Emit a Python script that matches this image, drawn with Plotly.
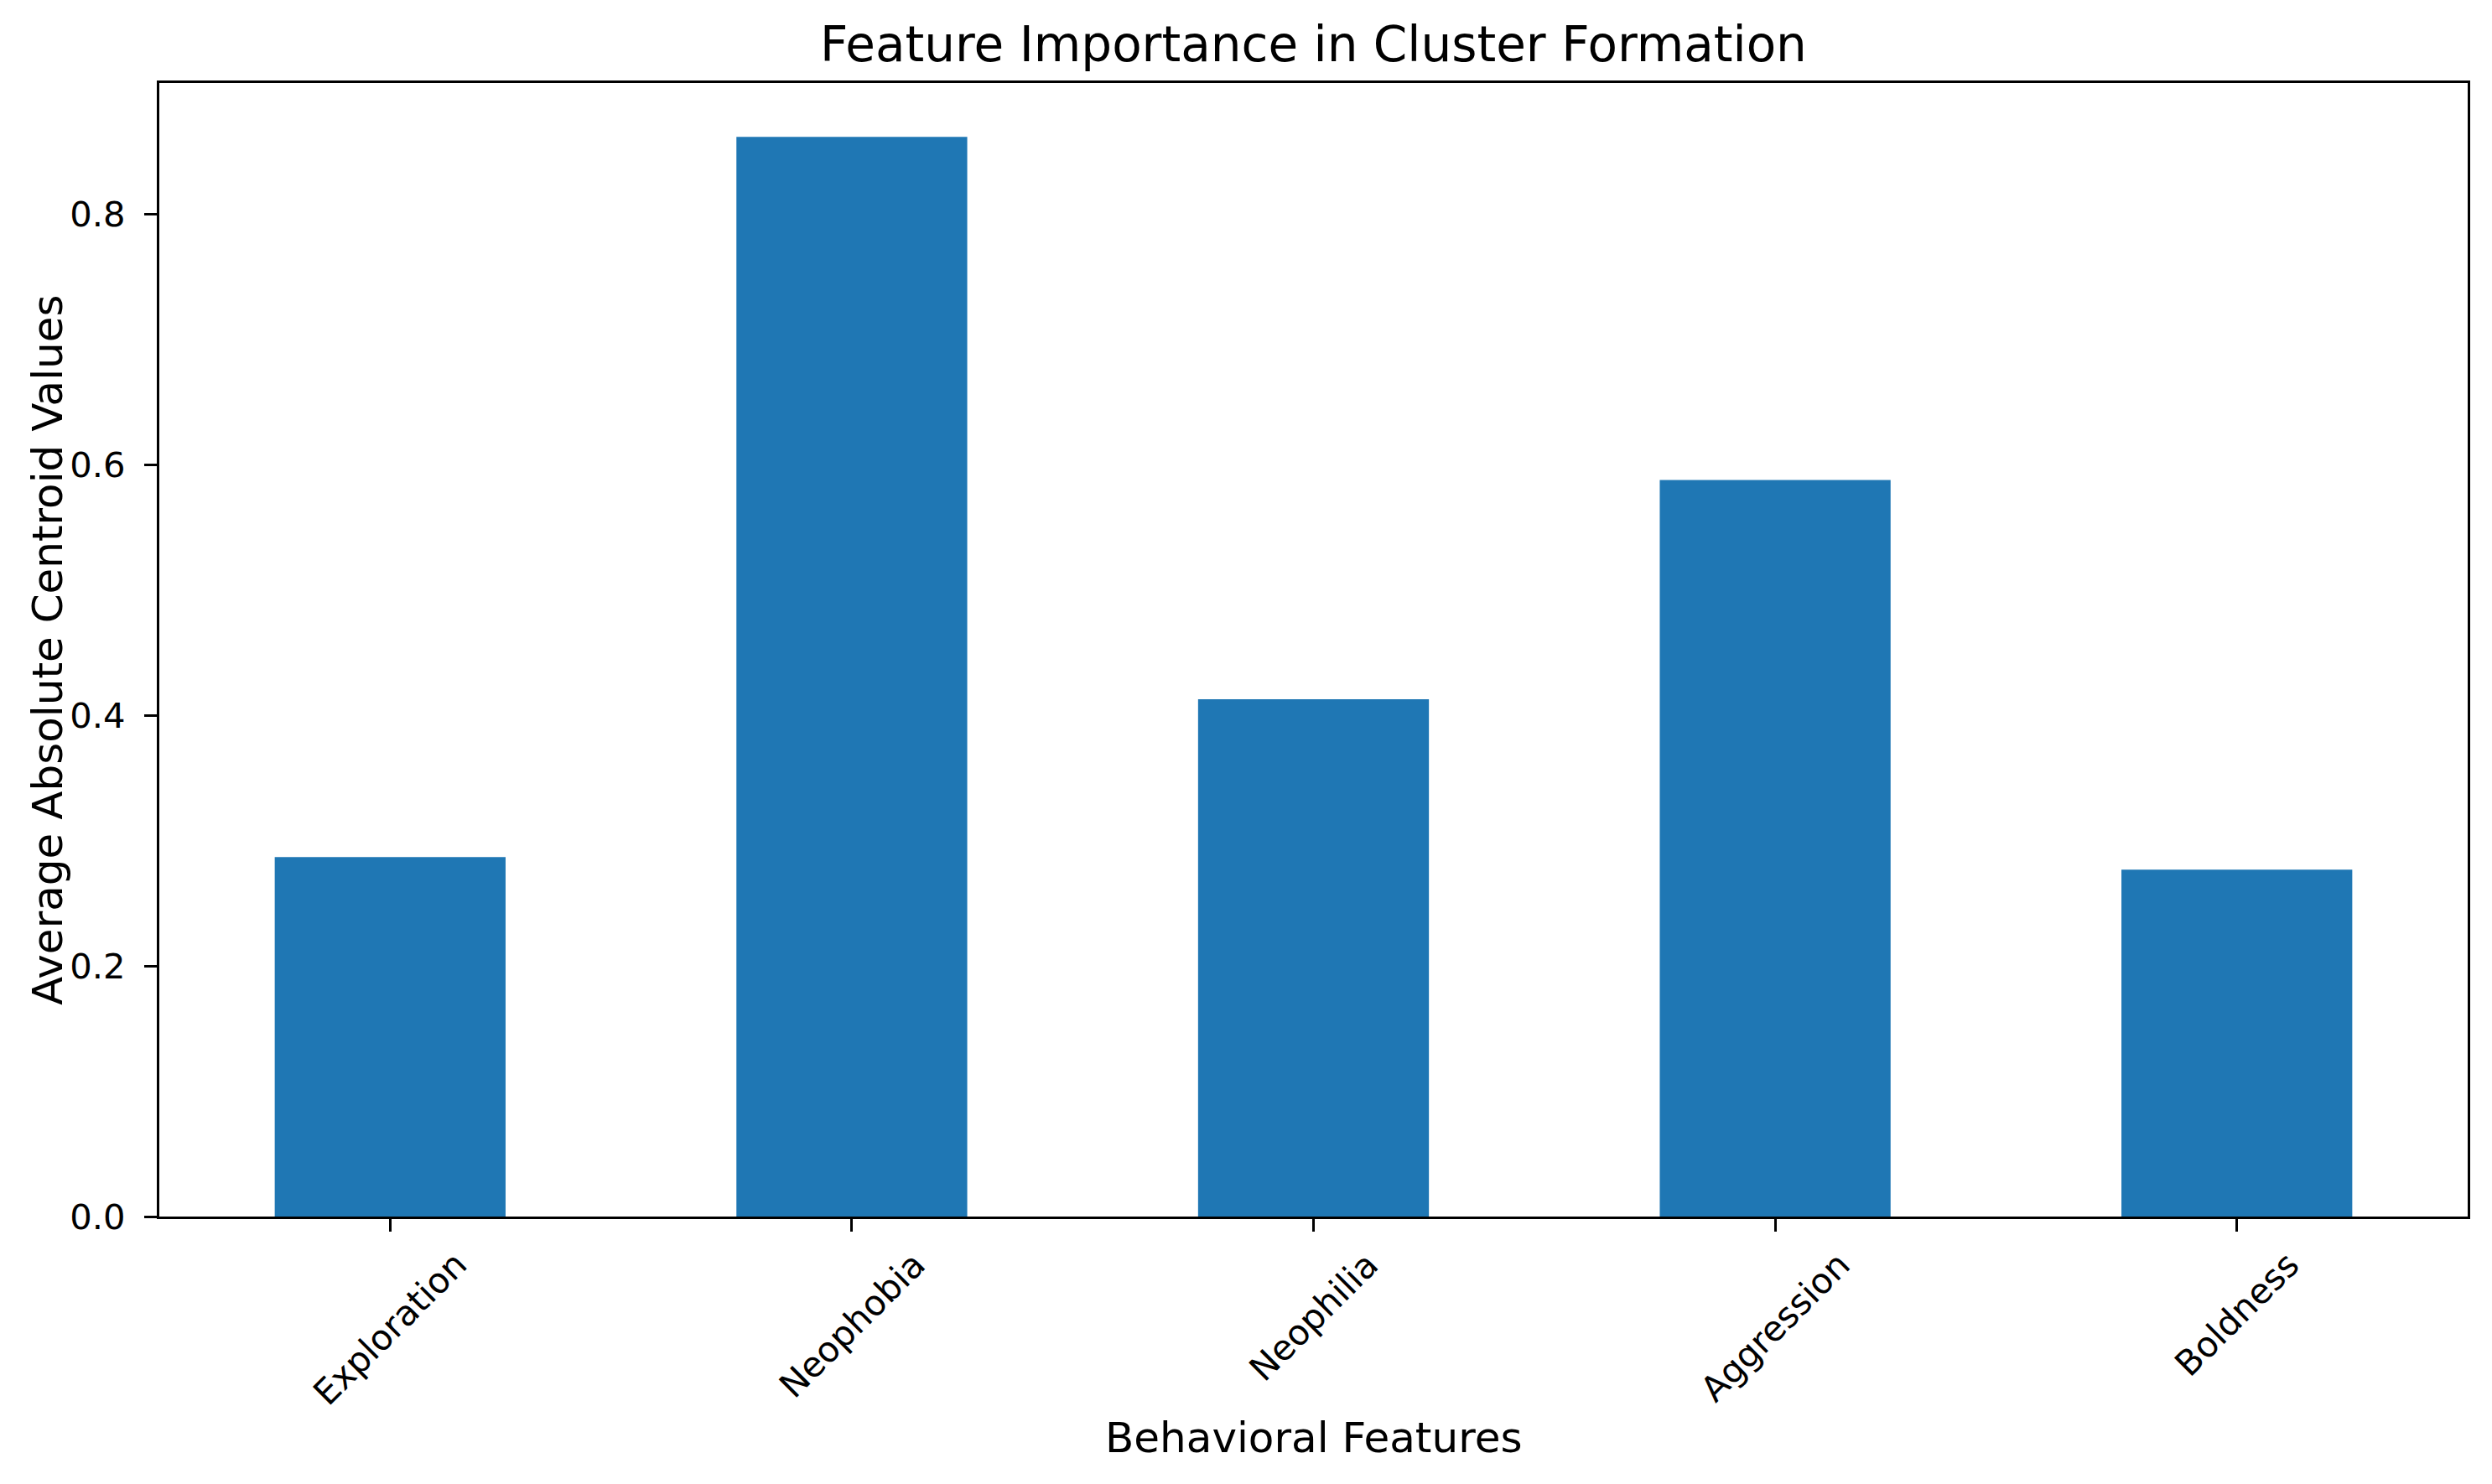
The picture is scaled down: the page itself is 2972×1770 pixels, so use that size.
import plotly.graph_objects as go

categories = ["Exploration", "Neophobia", "Neophilia", "Aggression", "Boldness"]
values = [0.287, 0.862, 0.413, 0.588, 0.277]
y_ticks = [0.0, 0.2, 0.4, 0.6, 0.8]

W, H = 2972, 1770
L, R, T, B = 190, 2943, 99, 1451
FONT = "DejaVu Sans"
TICK_PX = 41.7
LABEL_PX = 50
TITLE_PX = 58

fig = go.Figure()
fig.add_trace(go.Bar(x=categories, y=values, marker=dict(color="#1f77b4", line=dict(width=0)),
                     width=0.5, hoverinfo="skip"))

annotations = []
for c in categories:
    annotations.append(dict(x=c, y=0, xref="x", yref="paper", text=c, showarrow=False,
                            textangle=-45, xanchor="center", yanchor="top", yshift=-30,
                            font=dict(family=FONT, size=TICK_PX, color="black")))
annotations.append(dict(x=0.5, y=0, xref="paper", yref="paper", text="Behavioral Features",
                        showarrow=False, xanchor="center", yanchor="middle", yshift=-(1715 - B),
                        font=dict(family=FONT, size=LABEL_PX, color="black")))
annotations.append(dict(x=0, y=0.5, xref="paper", yref="paper", text="Average Absolute Centroid Values",
                        showarrow=False, textangle=-90, xanchor="center", yanchor="middle",
                        xshift=57 - L, font=dict(family=FONT, size=LABEL_PX, color="black")))

fig.update_layout(
    width=W, height=H,
    margin=dict(l=L, r=W - R, t=T, b=H - B, pad=0),
    plot_bgcolor="white", paper_bgcolor="white",
    showlegend=False,
    title=dict(text="Feature Importance in Cluster Formation", x=0.5, xref="paper", xanchor="center",
               y=1 - 53 / H, yref="container", yanchor="middle",
               font=dict(family=FONT, size=TITLE_PX, color="black")),
    annotations=annotations,
    font=dict(family=FONT, color="black"),
)
fig.update_xaxes(range=[-0.5, 4.5], showticklabels=False, ticks="outside", ticklen=15, tickwidth=3.3,
                 tickcolor="black", showline=True, linecolor="black", linewidth=3.3, mirror=True,
                 showgrid=False, zeroline=False)
fig.update_yaxes(range=[0, 0.905], tickvals=y_ticks, ticktext=[f"{v:.1f}" for v in y_ticks],
                 ticks="outside", ticklen=15, tickwidth=3.3, tickcolor="black", ticklabelstandoff=14,
                 tickfont=dict(family=FONT, size=TICK_PX, color="black"),
                 showline=True, linecolor="black", linewidth=3.3, mirror=True,
                 showgrid=False, zeroline=False)

fig.write_html("out.html", config={"displayModeBar": False},
               post_script="document.body.style.margin='0';document.body.style.overflow='hidden';")
